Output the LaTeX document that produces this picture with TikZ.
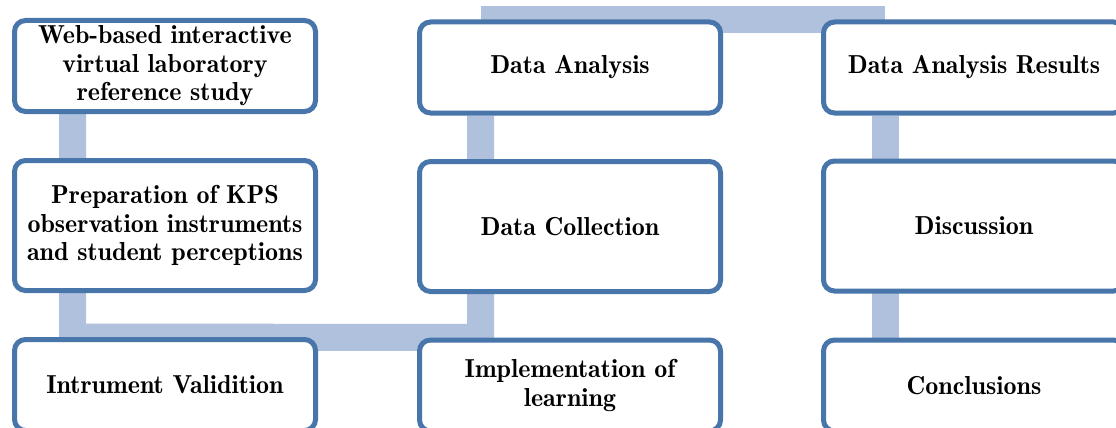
\documentclass[tikz,border=0pt]{standalone}
\usepackage{fontspec}
\usetikzlibrary{calc}
\newfontfamily\boxfont{lmromandemi10-regular}[Extension=.otf]
\definecolor{boxline}{HTML}{4875AA}
\definecolor{barfill}{HTML}{B0C1DE}
\pgfdeclarelayer{background}
\pgfsetlayers{background,main}
\begin{document}
\begin{tikzpicture}[x=1pt,y=-1pt,
  stepbox/.style={draw=boxline,line width=5pt,fill=white,rounded corners=11pt,
    minimum width=301pt,inner sep=0pt,align=center,
    font=\boxfont\fontsize{26}{28.5}\selectfont},
  shortbox/.style={stepbox,minimum height=91pt},
  tallbox/.style={stepbox,minimum height=130pt},
  bar/.style={draw=barfill,line width=27pt,line cap=butt,line join=miter}]
\useasboundingbox (0,0) rectangle (1116,428);
\clip (0,0) rectangle (1116,428);
% first column
\node[shortbox] (web)   at (165,66)    {Web-based interactive\\virtual laboratory\\reference study};
\node[tallbox]  (prep)  at (165,225.5) {Preparation of KPS\\observation instruments\\and student perceptions};
\node[shortbox] (valid) at (165,385)   {Intrument Validition};
% second column
\node[shortbox] (anal)  at (570,67.5)  {Data Analysis};
\node[tallbox]  (coll)  at (570,226.5) {Data Collection};
\node[shortbox] (impl)  at (570,385.5) {Implementation of\\learning};
% third column
\node[shortbox] (res)   at (974,67.5)  {Data Analysis Results};
\node[tallbox]  (disc)  at (974,226)   {Discussion};
\node[shortbox] (conc)  at (974,385.5) {Conclusions};
% connecting bars behind the boxes
\begin{pgfonlayer}{background}
  \draw[bar] ($(web.south west)+(60.5,0)$) -- ($(valid.north west)+(60.5,0)$)
             -- ($(impl.north west)+(63.5,0)$) -- ($(anal.south west)+(63.5,0)$);
  \draw[bar] ($(anal.north west)+(63.5,0)$) -- ($(res.north west)+(64,0)$);
  \draw[bar] ($(res.south west)+(64,0)$) -- ($(conc.north west)+(64,0)$);
\end{pgfonlayer}
\end{tikzpicture}
\end{document}
